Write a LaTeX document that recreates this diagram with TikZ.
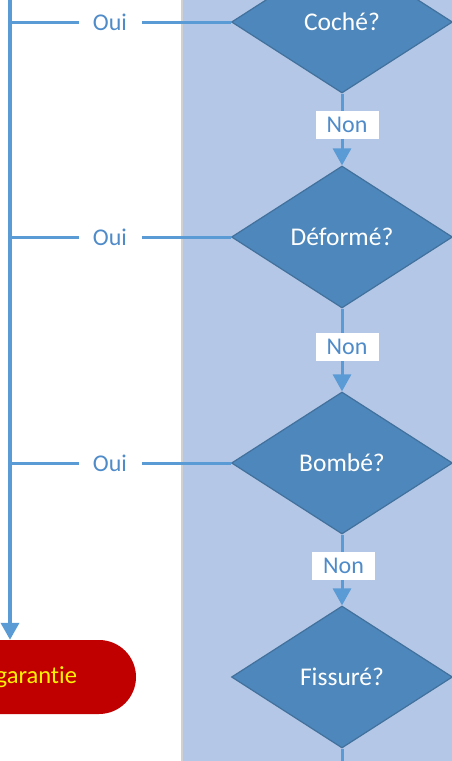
\documentclass[tikz,border=0pt]{standalone}
\usepackage{fontspec}
\setmainfont[Ligatures=NoCommon]{Carlito}
\usetikzlibrary{shapes.geometric,arrows.meta}
\definecolor{panel}{HTML}{B4C7E7}
\definecolor{dfill}{HTML}{4E87BB}
\definecolor{dline}{HTML}{41719C}
\definecolor{conn}{HTML}{5B9BD5}
\definecolor{ltext}{HTML}{4F8BC9}
\definecolor{termred}{HTML}{C00000}
\begin{document}
\begin{tikzpicture}[x=1pt,y=-1pt,
  decision/.style={diamond, draw=dline, line width=1.2pt, fill=dfill, text=white,
    minimum width=221pt, minimum height=142pt, inner sep=0pt, aspect=1.55,
    font=\fontsize{25.5}{30}\selectfont},
  conline/.style={draw=conn, line width=3pt},
  arr/.style={conline, -{Triangle[width=18pt,length=17pt]}},
  lbl/.style={fill=white, text=ltext, inner sep=0pt, minimum width=63pt, minimum height=28pt,
    font=\fontsize{24}{28}\selectfont},
  terminal/.style={fill=termred, rounded corners=37pt, minimum width=336pt, minimum height=74pt,
    inner sep=0pt, text=yellow, text width=218pt, align=right, font=\fontsize{24.5}{28}\selectfont}
]
\useasboundingbox (0,0) rectangle (452,761);
\fill[panel] (182,-5) rectangle (460,766);
\fill[black!18] (180.8,-5) rectangle (182.5,766);

\node[decision] (d1) at (342,22) {Coché?};
\node[decision] (d2) at (342,237) {Déformé?};
\node[decision] (d3) at (342,463) {Bombé?};
\node[decision] (d4) at (342,677) {Fissuré?};
\node[terminal] (term) at (-32,677) {garantie};

\coordinate (top) at (10,-10);
\coordinate (bot) at (342,775);

\draw[arr, line width=3.6pt] (top) -- (term.north -| top);
\draw[conline] (d1.west) -- (d1.west -| top);
\draw[conline] (d2.west) -- (d2.west -| top);
\draw[conline] (d3.west) -- (d3.west -| top);
\draw[arr] (d1.south) -- (d2.north);
\draw[arr] (d2.south) -- (d3.north);
\draw[arr] (d3.south) -- (d4.north);
\draw[conline] (d4.south) -- (bot);

\node[lbl] (o1) at (110,22) {Oui};
\node[lbl] (o2) at (110,237) {Oui};
\node[lbl] (o3) at (110,463) {Oui};
\node[lbl] (n1) at (347,125) {Non};
\node[lbl] (n2) at (347,346.5) {Non};
\node[lbl] (n3) at (343.5,565.5) {Non};
\end{tikzpicture}
\end{document}
